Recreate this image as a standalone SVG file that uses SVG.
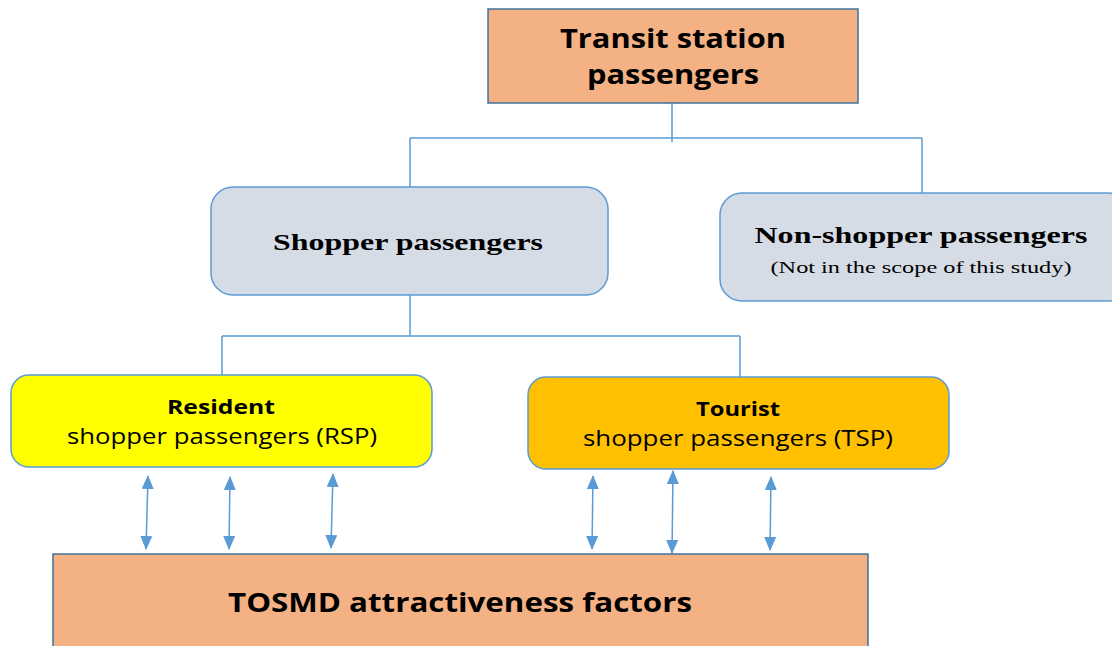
<svg xmlns="http://www.w3.org/2000/svg" width="1112" height="646" viewBox="0 0 1112 646">
  <style>
    .conn { fill: none; stroke: #5B9BD5; stroke-width: 1.5; }
    .arrow { fill: none; stroke: #5B9BD5; stroke-width: 1.5; marker-start: url(#head); marker-end: url(#head); }
    .orange { fill: #F4B183; stroke: #41719C; stroke-width: 1.5; }
    .grey { fill: #D6DCE5; stroke: #5B9BD5; stroke-width: 1.5; }
    .yellow { fill: #FFFF00; stroke: #5B9BD5; stroke-width: 1.5; }
    .amber { fill: #FFC000; stroke: #5B9BD5; stroke-width: 1.5; }
    .sans { font-family: "Open Sans", "Liberation Sans", sans-serif; fill: #000; text-anchor: middle; }
    .serif { font-family: "Liberation Serif", "Times New Roman", serif; fill: #000; text-anchor: middle; }
  </style>
  <defs>
    <marker id="head" viewBox="0 0 14 12" refX="13" refY="6" markerWidth="14" markerHeight="12" markerUnits="userSpaceOnUse" orient="auto-start-reverse">
      <path d="M0,0 L14,6 L0,12 Z" fill="#5B9BD5"/>
    </marker>
  </defs>

  <rect width="1112" height="646" fill="#FFFFFF"/>

  <!-- connectors -->
  <g id="connectors">
    <path class="conn" d="M672,103 V142 M410,138 H922 M410,138 V187 M922,138 V193"/>
    <path class="conn" d="M410,295 V336 M222,336 H740 M222,336 V375 M740,336 V377"/>
    <line class="arrow" x1="148" y1="476" x2="146" y2="549"/>
    <line class="arrow" x1="230" y1="477" x2="229" y2="549"/>
    <line class="arrow" x1="333" y1="474" x2="331" y2="548"/>
    <line class="arrow" x1="593" y1="476" x2="592" y2="549"/>
    <line class="arrow" x1="673" y1="471" x2="672" y2="553"/>
    <line class="arrow" x1="771" y1="477" x2="770" y2="550"/>
  </g>

  <!-- nodes -->
  <g id="transit">
    <rect class="orange" x="488" y="9" width="370" height="94"/>
    <text class="sans" x="673" y="48" font-size="27" font-weight="bold" textLength="226" lengthAdjust="spacingAndGlyphs">Transit station</text>
    <text class="sans" x="673" y="84" font-size="27" font-weight="bold" textLength="172" lengthAdjust="spacingAndGlyphs">passengers</text>
  </g>

  <g id="shopper">
    <rect class="grey" x="211" y="187" width="397" height="108" rx="22"/>
    <text class="serif" x="408" y="250" font-size="23" font-weight="bold" textLength="270" lengthAdjust="spacingAndGlyphs">Shopper passengers</text>
  </g>

  <g id="non-shopper">
    <rect class="grey" x="720" y="193" width="410" height="108" rx="22"/>
    <text class="serif" x="921" y="243" font-size="23" font-weight="bold" textLength="333" lengthAdjust="spacingAndGlyphs">Non-shopper passengers</text>
    <text class="serif" x="921" y="273" font-size="16" textLength="301" lengthAdjust="spacingAndGlyphs">(Not in the scope of this study)</text>
  </g>

  <g id="resident">
    <rect class="yellow" x="11" y="375" width="421" height="92" rx="18"/>
    <text class="sans" x="221" y="414" font-size="19" font-weight="bold" textLength="108" lengthAdjust="spacingAndGlyphs">Resident</text>
    <text class="sans" x="222" y="444" font-size="21" textLength="310" lengthAdjust="spacingAndGlyphs">shopper passengers (RSP)</text>
  </g>

  <g id="tourist">
    <rect class="amber" x="528" y="377" width="421" height="92" rx="18"/>
    <text class="sans" x="738" y="416" font-size="19" font-weight="bold" textLength="84" lengthAdjust="spacingAndGlyphs">Tourist</text>
    <text class="sans" x="738" y="446" font-size="21" textLength="310" lengthAdjust="spacingAndGlyphs">shopper passengers (TSP)</text>
  </g>

  <g id="tosmd">
    <rect class="orange" x="53" y="554" width="815" height="100"/>
    <text class="sans" x="460" y="612" font-size="27" font-weight="bold" textLength="464" lengthAdjust="spacingAndGlyphs">TOSMD attractiveness factors</text>
  </g>
</svg>
